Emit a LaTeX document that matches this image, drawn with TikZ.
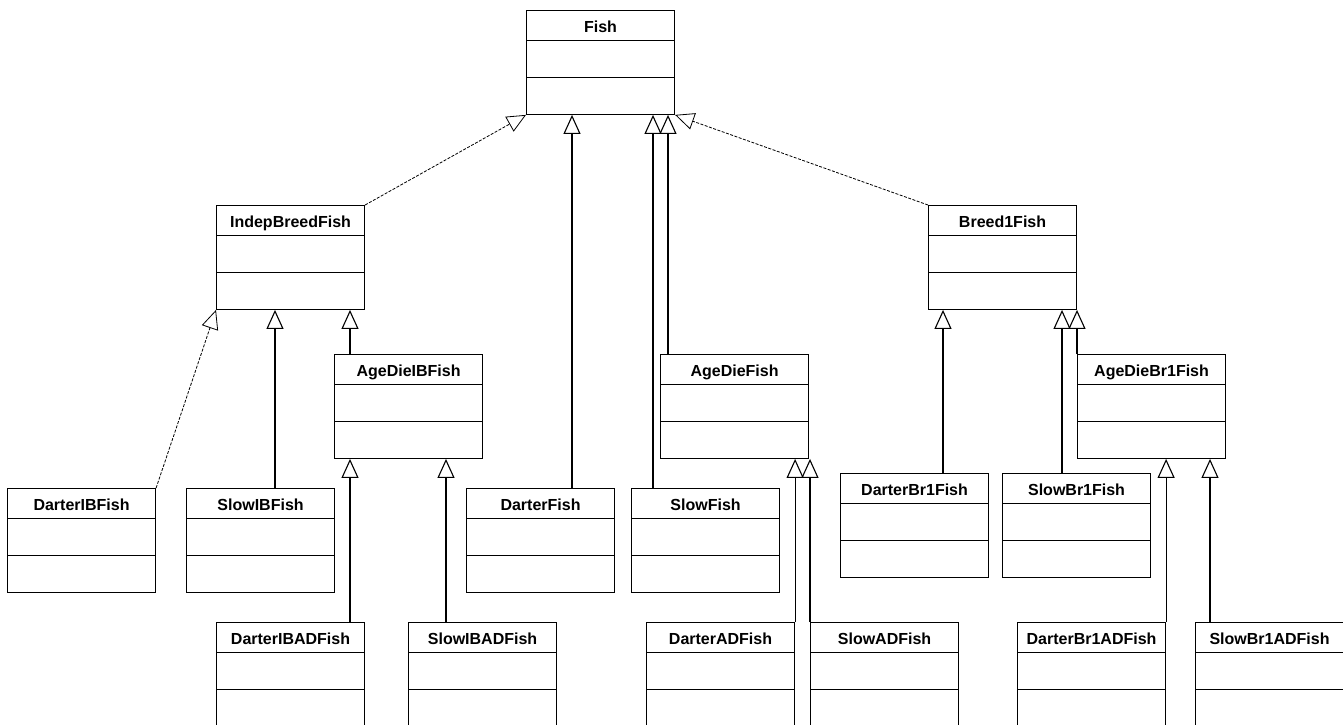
\documentclass[tikz,border=0pt]{standalone}
\usepackage{fontspec}
\setmainfont{Liberation Sans}
\usetikzlibrary{shapes.multipart,arrows.meta}

\newcommand{\fishclass}[3]{\node[classbox] (#1) at (#2) {\rule[-8pt]{0pt}{29pt}#3\nodepart{two}\rule{0pt}{35.5pt}\nodepart{three}\rule{0pt}{36pt}};}

\begin{document}
\begin{tikzpicture}[x=1pt,y=-1pt,
  classbox/.style={rectangle split,rectangle split parts=3,draw,line width=1.1pt,
    anchor=north west,minimum width=148pt,inner xsep=2pt,inner ysep=0pt,
    font=\bfseries\fontsize{16}{19}\selectfont},
  gen/.style={line width=1.1pt,-{Triangle[open,length=19pt,width=17pt]}},
  genlean/.style={gen,line width=0.8pt,dash pattern=on 3pt off 1.5pt}]
  \path[use as bounding box,clip] (0,0) rectangle (1343,725);
  \fishclass{Fish}{526,10}{Fish}
  \fishclass{IndepBreedFish}{216,205}{IndepBreedFish}
  \fishclass{Breed1Fish}{928,205}{Breed1Fish}
  \fishclass{AgeDieIBFish}{334,354}{AgeDieIBFish}
  \fishclass{AgeDieFish}{660,354}{AgeDieFish}
  \fishclass{AgeDieBr1Fish}{1077,354}{AgeDieBr1Fish}
  \fishclass{DarterIBFish}{7,488}{DarterIBFish}
  \fishclass{SlowIBFish}{186,488}{SlowIBFish}
  \fishclass{DarterFish}{466,488}{DarterFish}
  \fishclass{SlowFish}{631,488}{SlowFish}
  \fishclass{DarterBr1Fish}{840,473}{DarterBr1Fish}
  \fishclass{SlowBr1Fish}{1002,473}{SlowBr1Fish}
  \fishclass{DarterIBADFish}{216,622}{DarterIBADFish}
  \fishclass{SlowIBADFish}{408,622}{SlowIBADFish}
  \fishclass{DarterADFish}{646,622}{DarterADFish}
  \fishclass{SlowADFish}{810,622}{SlowADFish}
  \fishclass{DarterBr1ADFish}{1017,622}{DarterBr1ADFish}
  \fishclass{SlowBr1ADFish}{1195,622}{SlowBr1ADFish}

  \draw[genlean] (IndepBreedFish.north east) -- (Fish.south west);
  \draw[gen] (572,0 |- DarterFish.north) -- (572,0 |- Fish.south);
  \draw[gen] (653,0 |- SlowFish.north) -- (653,0 |- Fish.south);
  \draw[gen] (668,0 |- AgeDieFish.north) -- (668,0 |- Fish.south);
  \draw[genlean] (Breed1Fish.north west) -- (Fish.south east);
  \draw[genlean] (DarterIBFish.north east) -- (IndepBreedFish.south west);
  \draw[gen] (275,0 |- SlowIBFish.north) -- (275,0 |- IndepBreedFish.south);
  \draw[gen] (350,0 |- AgeDieIBFish.north) -- (350,0 |- IndepBreedFish.south);
  \draw[gen] (350,0 |- DarterIBADFish.north) -- (350,0 |- AgeDieIBFish.south);
  \draw[gen] (446,0 |- SlowIBADFish.north) -- (446,0 |- AgeDieIBFish.south);
  \draw[gen] (DarterADFish.north east) -- (DarterADFish.north east |- AgeDieFish.south);
  \draw[gen] (SlowADFish.north west) -- (SlowADFish.north west |- AgeDieFish.south);
  \draw[gen] (943,0 |- DarterBr1Fish.north) -- (943,0 |- Breed1Fish.south);
  \draw[gen] (1062,0 |- SlowBr1Fish.north) -- (1062,0 |- Breed1Fish.south);
  \draw[gen] (AgeDieBr1Fish.north west) -- (AgeDieBr1Fish.north west |- Breed1Fish.south);
  \draw[gen] (DarterBr1ADFish.north east) -- (DarterBr1ADFish.north east |- AgeDieBr1Fish.south);
  \draw[gen] (1210,0 |- SlowBr1ADFish.north) -- (1210,0 |- AgeDieBr1Fish.south);
\end{tikzpicture}
\end{document}
